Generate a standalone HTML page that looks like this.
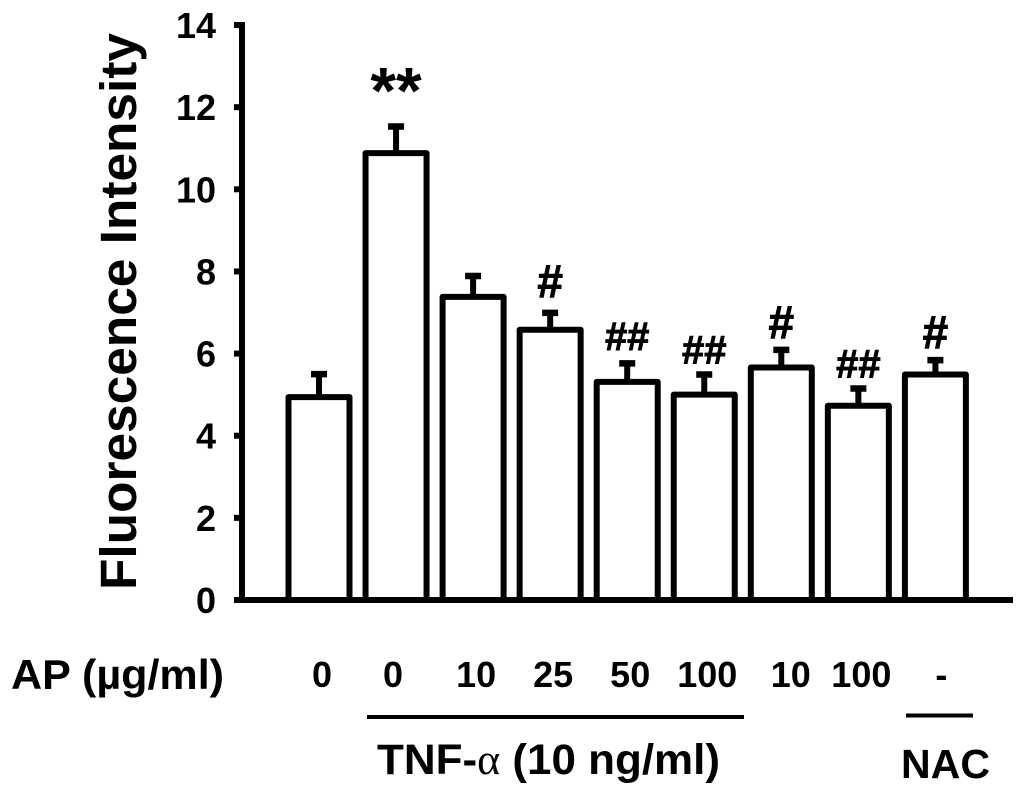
<!DOCTYPE html>
<html lang="en">
<head>
<meta charset="utf-8">
<title>Fluorescence Intensity</title>
<style>
html,body{margin:0;padding:0;background:#fff;width:1024px;height:795px;overflow:hidden}
svg{display:block}
text{font-family:"Liberation Sans",Arial,sans-serif;font-weight:bold;fill:#000}
</style>
</head>
<body>
<svg id="chart" xmlns="http://www.w3.org/2000/svg" width="1024" height="795" viewBox="0 0 1024 795">
  <rect x="0" y="0" width="1024" height="795" fill="#fff"/>
  <g id="bars"></g>
  <g id="axes"></g>
  <g id="markers"></g>
  <g id="cats"></g>
  <text transform="translate(136,590) rotate(-90)" font-size="51" textLength="557" lengthAdjust="spacingAndGlyphs">Fluorescence Intensity</text>
  <text x="11" y="689" font-size="42" textLength="213" lengthAdjust="spacingAndGlyphs">AP (µg/ml)</text>
  <line x1="367" y1="717" x2="744" y2="717" stroke="#000" stroke-width="4"/>
  <line x1="906" y1="715.5" x2="973" y2="715.5" stroke="#000" stroke-width="4"/>
  <text x="377" y="774" font-size="43" textLength="343" lengthAdjust="spacingAndGlyphs">TNF-<tspan style="font-family:'Liberation Serif',serif;font-weight:normal">α</tspan> (10 ng/ml)</text>
  <text x="901" y="778" font-size="41" textLength="89" lengthAdjust="spacingAndGlyphs">NAC</text>
</svg>
<script>
const categories = ["0", "0", "10", "25", "50", "100", "10", "100", "-"];
const values = [4.94, 10.88, 7.38, 6.58, 5.31, 5.00, 5.66, 4.73, 5.49];
const errorTops = [5.50, 11.53, 7.89, 6.99, 5.76, 5.49, 6.09, 5.15, 5.84];
const markers = ["", "**", "", "#", "##", "##", "#", "##", "#"];
const yTicks = [0, 2, 4, 6, 8, 10, 12, 14];

const NS = "http://www.w3.org/2000/svg";
const y0 = 600, yPerUnit = 41.07;
const x0 = 319, step = 77.05, halfBar = 30.5;
function yScale(v) { return y0 - v * yPerUnit; }
function xScale(i) { return x0 + i * step; }
function labelNudge(i) {
  if (i === 1) return -3;
  if (i === 6) return 9.5;
  if (i === 8) return 6;
  return 3;
}
function markerGap(i) {
  if (i === 1) return 13;
  if (i === 3) return 16;
  if (i === 4) return 13.5;
  if (i === 6 || i === 8) return 12;
  return 11;
}
function make(tag, attrs, parent) {
  const el = document.createElementNS(NS, tag);
  for (const k in attrs) el.setAttribute(k, attrs[k]);
  parent.appendChild(el);
  return el;
}

const barsG = document.getElementById("bars");
const axesG = document.getElementById("axes");
const markersG = document.getElementById("markers");
const catsG = document.getElementById("cats");

values.forEach(function (v, i) {
  const cx = xScale(i);
  const top = yScale(v);
  const capY = yScale(errorTops[i]);

  const stem = make("line", { x1: cx, x2: cx, y1: capY, y2: top, stroke: "#000", "stroke-width": 6 }, barsG);
  
  

  const cap = make("line", { x1: cx - 8, x2: cx + 8, y1: capY, y2: capY, stroke: "#000", "stroke-width": 6.5 }, barsG);
  
  

  const bar = make("rect", { x: cx - halfBar, y: top, width: halfBar * 2, height: y0 - top, fill: "#fff", stroke: "#000", "stroke-width": 6, "stroke-linejoin": "round" }, barsG);
  
  

  const label = make("text", { x: cx + labelNudge(i), y: 687, "font-size": 36, "text-anchor": "middle" }, catsG);
  
  
  label.textContent = categories[i];

  if (markers[i]) {
    const size = markers[i] === "**" ? 66 : (markers[i] === "##" ? 40 : 46);
    const m = make("text", { x: cx, y: capY - markerGap(i), "font-size": size, "text-anchor": "middle", stroke: "#000", "stroke-width": markers[i] === "**" ? 0 : 0.9 }, markersG);
    
    
    m.textContent = markers[i];
  }
});

yTicks.forEach(function (t) {
  const y = yScale(t);
  const tick = make("line", { x1: 234, x2: 242, y1: y, y2: y, stroke: "#000", "stroke-width": 6 }, axesG);
  
  

  const lab = make("text", { x: 216, y: y + 13, "font-size": 36, "text-anchor": "end" }, axesG);
  
  
  lab.textContent = t;
});

const yAxis = make("line", { x1: 242, x2: 242, y1: yScale(14) - 3, y2: y0, stroke: "#000", "stroke-width": 6 }, axesG);



const xAxis = make("line", { x1: 234, x2: 1013, y1: y0, y2: y0, stroke: "#000", "stroke-width": 6 }, axesG);


</script>
</body>
</html>
